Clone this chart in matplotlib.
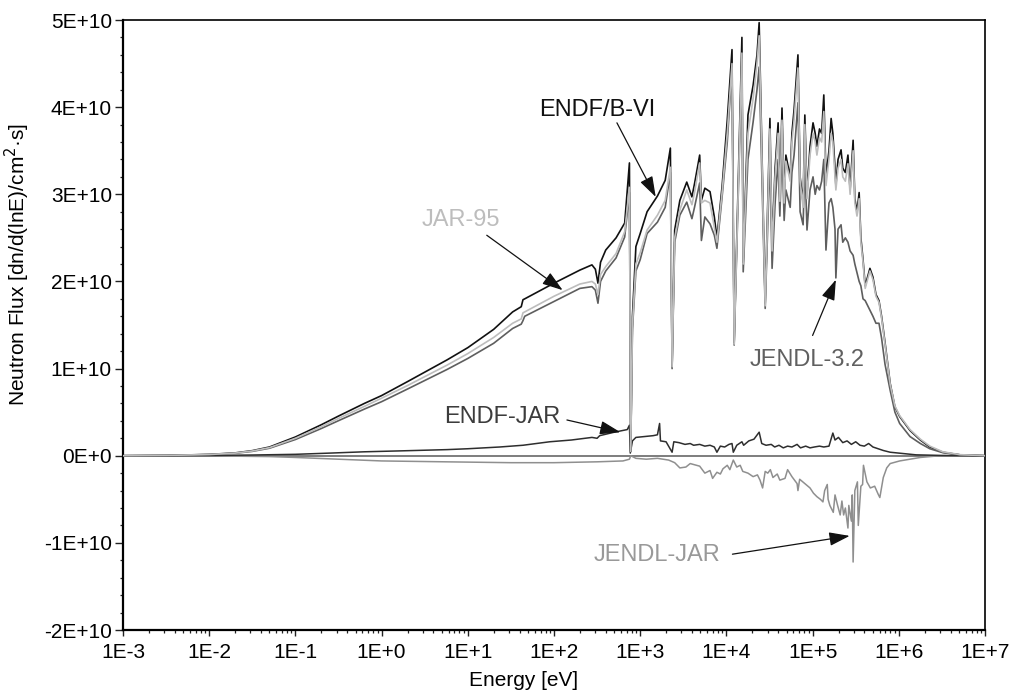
import numpy as np
import matplotlib
matplotlib.use("Agg")
import matplotlib.pyplot as plt
from matplotlib.ticker import FixedLocator

plt.rcParams['font.family'] = ['Liberation Sans', 'DejaVu Sans']

# ---------------- data (flux in units of 1E+10) ----------------
log_energy = [-3.00, -2.50, -2.00, -1.70, -1.50, -1.30, -1.00, -0.70, -0.50, -0.20,
              0.00, 0.30, 0.76, 1.00, 1.30, 1.52, 1.62, 1.64, 1.66, 2.00,
              2.30, 2.44, 2.48, 2.51, 2.54, 2.60, 2.72, 2.82, 2.875, 2.89,
              2.91, 2.95, 3.00, 3.08, 3.20, 3.29, 3.35, 3.37, 3.40, 3.46,
              3.54, 3.60, 3.63, 3.69, 3.71, 3.75, 3.81, 3.86, 3.89, 3.95,
              4.01, 4.065, 4.09, 4.18, 4.195, 4.25, 4.31, 4.355, 4.38, 4.45,
              4.505, 4.53, 4.565, 4.60, 4.62, 4.645, 4.67, 4.69, 4.74, 4.76,
              4.785, 4.83, 4.855, 4.89, 4.91, 4.935, 4.97, 5.005, 5.03, 5.05,
              5.08, 5.105, 5.13, 5.155, 5.19, 5.215, 5.235, 5.26, 5.27, 5.295,
              5.33, 5.35, 5.38, 5.41, 5.435, 5.47, 5.49, 5.515, 5.54, 5.56,
              5.585, 5.61, 5.665, 5.70, 5.735, 5.77, 5.80, 5.84, 5.90, 5.955,
              6.01, 6.13, 6.25, 6.36, 6.51, 6.71, 7.00]

endf_b6 = [0.000, 0.003, 0.015, 0.032, 0.058, 0.100, 0.215, 0.355, 0.455, 0.600,
           0.690, 0.850, 1.100, 1.240, 1.450, 1.650, 1.710, 1.790, 1.800, 1.980,
           2.130, 2.190, 2.140, 1.980, 2.220, 2.360, 2.500, 2.670, 3.360, 0.050,
           1.600, 2.400, 2.550, 2.800, 2.980, 3.160, 3.530, 1.020, 2.590, 2.930,
           3.140, 2.970, 3.120, 3.450, 2.930, 3.070, 3.030, 2.740, 2.500, 3.090,
           3.850, 4.660, 1.300, 4.800, 2.220, 3.910, 4.250, 4.600, 4.970, 1.750,
           3.870, 2.400, 3.300, 3.820, 2.950, 3.990, 2.950, 3.450, 3.200, 3.700,
           3.970, 4.600, 3.200, 2.900, 3.910, 3.000, 3.550, 3.820, 3.700, 3.550,
           3.750, 3.700, 4.140, 3.200, 3.500, 3.870, 3.700, 3.300, 3.100, 3.400,
           3.510, 3.300, 3.250, 3.450, 3.050, 3.620, 2.950, 2.800, 3.020, 2.500,
           2.250, 1.950, 2.150, 2.050, 1.850, 1.780, 1.600, 1.300, 0.830, 0.560,
           0.450, 0.290, 0.180, 0.100, 0.040, 0.010, 0.000]

jar95 = [0.000, 0.003, 0.014, 0.030, 0.054, 0.093, 0.200, 0.333, 0.428, 0.566,
         0.660, 0.805, 1.040, 1.172, 1.357, 1.520, 1.570, 1.640, 1.650, 1.830,
         1.970, 2.000, 1.970, 1.850, 2.080, 2.170, 2.320, 2.570, 3.080, 0.050,
         1.500, 2.200, 2.330, 2.590, 2.760, 2.930, 3.310, 1.020, 2.500, 2.820,
         3.050, 2.880, 3.020, 3.360, 2.900, 2.930, 2.900, 2.620, 2.450, 3.020,
         3.700, 4.500, 1.280, 4.620, 2.200, 3.700, 4.100, 4.500, 4.820, 1.720,
         3.750, 2.350, 3.200, 3.700, 2.920, 3.850, 2.900, 3.380, 3.150, 3.600,
         3.850, 4.450, 3.150, 2.850, 3.800, 2.950, 3.450, 3.700, 3.600, 3.450,
         3.650, 3.600, 3.950, 3.100, 3.400, 3.700, 3.600, 3.200, 3.050, 3.300,
         3.400, 3.200, 3.150, 3.350, 3.000, 3.500, 2.900, 2.750, 2.950, 2.450,
         2.220, 1.920, 2.120, 2.020, 1.830, 1.760, 1.580, 1.280, 0.820, 0.570,
         0.460, 0.300, 0.190, 0.110, 0.045, 0.012, 0.000]

jendl32 = [0.000, 0.003, 0.013, 0.028, 0.050, 0.086, 0.186, 0.312, 0.402, 0.535,
           0.620, 0.765, 0.990, 1.116, 1.290, 1.460, 1.510, 1.550, 1.600, 1.770,
           1.920, 1.940, 1.900, 1.750, 2.000, 2.120, 2.270, 2.510, 3.020, 0.050,
           1.450, 2.120, 2.250, 2.550, 2.680, 2.850, 3.250, 1.000, 2.450, 2.760,
           2.910, 2.720, 2.850, 3.130, 2.470, 2.740, 2.660, 2.530, 2.380, 2.970,
           3.600, 4.450, 1.270, 4.550, 2.110, 3.400, 3.830, 4.200, 4.460, 1.690,
           3.450, 2.150, 2.900, 3.400, 2.750, 3.550, 2.700, 3.050, 2.850, 3.250,
           3.450, 4.050, 2.800, 2.650, 3.400, 2.590, 3.050, 3.200, 3.000, 3.100,
           3.050, 3.150, 3.400, 2.360, 2.900, 2.950, 2.850, 2.600, 2.040, 2.600,
           2.650, 2.450, 2.500, 2.450, 2.350, 2.300, 2.200, 2.100, 2.000, 1.950,
           1.800, 1.780, 1.670, 1.600, 1.520, 1.520, 1.350, 1.050, 0.750, 0.500,
           0.370, 0.220, 0.140, 0.080, 0.035, 0.010, 0.000]

diff1_log_energy = [-3.0, -2.0, -1.5, -1.0, -0.6, -0.2, 0.2, 0.76, 1.0, 1.37,
                    1.64, 1.95, 2.2, 2.44, 2.5, 2.53, 2.7, 2.85, 2.875, 2.885,
                    2.91, 2.95, 3.05, 3.15, 3.20, 3.225, 3.235, 3.30, 3.37, 3.39,
                    3.45, 3.52, 3.58, 3.62, 3.69, 3.75, 3.81, 3.86, 3.89, 3.93,
                    3.98, 4.03, 4.065, 4.08, 4.12, 4.18, 4.20, 4.26, 4.32, 4.38,
                    4.41, 4.46, 4.52, 4.56, 4.61, 4.66, 4.71, 4.76, 4.82, 4.86,
                    4.92, 4.97, 5.02, 5.08, 5.13, 5.19, 5.235, 5.26, 5.30, 5.35,
                    5.40, 5.45, 5.50, 5.55, 5.60, 5.65, 5.70, 5.76, 5.82, 5.90,
                    6.0, 6.2, 6.5, 7.0]
endf_minus_jar = [0.0, 0.003, 0.008, 0.016, 0.030, 0.045, 0.055, 0.070, 0.080, 0.100,
                  0.120, 0.160, 0.180, 0.210, 0.200, 0.230, 0.270, 0.300, 0.350, 0.030,
                  0.170, 0.210, 0.220, 0.230, 0.240, 0.370, 0.170, 0.160, 0.040, 0.160,
                  0.150, 0.130, 0.140, 0.120, 0.130, 0.110, 0.120, 0.100, 0.040, 0.110,
                  0.100, 0.130, 0.140, 0.040, 0.120, 0.160, 0.120, 0.170, 0.190, 0.270,
                  0.140, 0.120, 0.130, 0.100, 0.120, 0.090, 0.110, 0.100, 0.130, 0.090,
                  0.110, 0.090, 0.100, 0.110, 0.100, 0.110, 0.260, 0.180, 0.210, 0.150,
                  0.170, 0.130, 0.160, 0.120, 0.110, 0.140, 0.100, 0.080, 0.060, 0.040,
                  0.030, 0.010, 0.003, 0.0]

diff2_log_energy = [-3.0, -2.0, -1.3, -1.0, -0.5, 0.0, 0.74, 1.5, 2.0, 2.5,
                    2.8, 2.875, 2.89, 2.95, 3.07, 3.2, 3.33, 3.40, 3.46, 3.53,
                    3.58, 3.69, 3.75, 3.81, 3.84, 3.89, 3.93, 3.96, 4.01, 4.04,
                    4.08, 4.12, 4.16, 4.19, 4.25, 4.31, 4.36, 4.39, 4.42, 4.45,
                    4.48, 4.51, 4.54, 4.59, 4.62, 4.68, 4.71, 4.76, 4.82, 4.83,
                    4.85, 4.91, 4.97, 5.01, 5.05, 5.09, 5.12, 5.14, 5.17, 5.18,
                    5.20, 5.24, 5.26, 5.29, 5.32, 5.34, 5.36, 5.38, 5.41, 5.42,
                    5.45, 5.46, 5.47, 5.49, 5.52, 5.53, 5.56, 5.58, 5.59, 5.63,
                    5.67, 5.72, 5.76, 5.78, 5.82, 5.86, 5.90, 6.01, 6.13, 6.25,
                    6.42, 6.71, 7.0]
jendl_minus_jar = [0.0, -0.002, -0.010, -0.020, -0.040, -0.060, -0.070, -0.080, -0.080, -0.070,
                   -0.060, -0.040, 0.000, -0.030, -0.040, -0.030, -0.050, -0.080, -0.140, -0.130,
                   -0.090, -0.120, -0.200, -0.170, -0.260, -0.190, -0.210, -0.150, -0.110, -0.160,
                   -0.050, -0.130, -0.110, -0.180, -0.200, -0.240, -0.220, -0.280, -0.370, -0.180,
                   -0.200, -0.160, -0.250, -0.210, -0.280, -0.260, -0.160, -0.240, -0.320, -0.400,
                   -0.270, -0.320, -0.370, -0.430, -0.470, -0.500, -0.530, -0.400, -0.330, -0.500,
                   -0.570, -0.650, -0.450, -0.570, -0.680, -0.520, -0.680, -0.600, -0.830, -0.570,
                   -0.750, -0.450, -1.220, -0.400, -0.300, -0.800, -0.350, -0.330, -0.110, -0.300,
                   -0.370, -0.350, -0.440, -0.480, -0.250, -0.140, -0.090, -0.060, -0.040, -0.020,
                   -0.005, 0.0, 0.0]

x_tick_labels = ["1E-3", "1E-2", "1E-1", "1E+0", "1E+1", "1E+2",
                 "1E+3", "1E+4", "1E+5", "1E+6", "1E+7"]
y_tick_labels = ["-2E+10", "-1E+10", "0E+0", "1E+10", "2E+10",
                 "3E+10", "4E+10", "5E+10"]

SCALE = 1e10

def to_E(le):
    return np.power(10.0, np.asarray(le, dtype=float))

def to_flux(v):
    return np.asarray(v, dtype=float) * SCALE

# ---------------- figure ----------------
fig = plt.figure(figsize=(10.12, 6.95), dpi=100)
L, R, T, B = 123, 985, 20, 630
ax = fig.add_axes([L / 1012, (695 - B) / 695, (R - L) / 1012, (B - T) / 695])

E = to_E(log_energy)
ax.axhline(0, color='#5a5a5a', lw=1.1, zorder=1)
ax.plot(to_E(diff2_log_energy), to_flux(jendl_minus_jar), color='#8f8f8f', lw=1.1, zorder=2)
ax.plot(to_E(diff1_log_energy), to_flux(endf_minus_jar), color='#2e2e2e', lw=1.1, zorder=2)
ax.plot(E, to_flux(endf_b6), color='#111111', lw=1.2, zorder=3)
ax.plot(E, to_flux(jendl32), color='#5e5e5e', lw=1.2, zorder=4)
ax.plot(E, to_flux(jar95), color='#bdbdbd', lw=1.2, zorder=5)

ax.set_xscale('log')
ax.set_xlim(1e-3, 1e7)
ax.set_ylim(-2e10, 5e10)

ax.set_xticks([10.0 ** k for k in range(-3, 8)])
ax.set_xticklabels(x_tick_labels)
minor_x = [m * 10.0 ** k for k in range(-3, 7) for m in range(2, 10)]
ax.xaxis.set_minor_locator(FixedLocator(minor_x))

ax.set_yticks([k * 1e10 for k in range(-2, 6)])
ax.set_yticklabels(y_tick_labels)
ax.yaxis.set_minor_locator(FixedLocator([k * 2e9 for k in range(-10, 26)]))

ax.tick_params(axis='both', which='major', direction='out', labelsize=15, width=1.0, color='#222222')
ax.tick_params(axis='y', which='major', length=6, pad=2)
ax.tick_params(axis='x', which='major', length=4, pad=5)
ax.tick_params(axis='both', which='minor', direction='out', length=2.3, width=0.9, color='#222222')
ax.tick_params(top=False, right=False, which='both')

for side in ['left', 'bottom']:
    ax.spines[side].set_linewidth(1.6)
for side in ['top', 'right']:
    ax.spines[side].set_linewidth(1.2)

ax.set_xlabel("Energy [eV]", fontsize=15)
ax.xaxis.set_label_coords(0.465, -0.068)
ax.set_ylabel("Neutron Flux [dn/d(lnE)/cm$^2$·s]", fontsize=15)
ax.yaxis.set_label_coords(-0.106, 0.60)

# ---------------- annotations ----------------
arrow_kw = dict(arrowstyle='-|>,head_length=0.9,head_width=0.3', color='#111111',
                lw=0.9, shrinkA=0, shrinkB=0, mutation_scale=14)

def label(text, tx, ty, color, tail, head):
    ax.text(tx, ty * SCALE, text, fontsize=17, color=color, ha='center', va='center', zorder=6)
    ax.annotate('', xy=(head[0], head[1] * SCALE), xytext=(tail[0], tail[1] * SCALE),
                arrowprops=arrow_kw, zorder=6)

label("ENDF/B-VI", 10 ** 2.50, 3.97, '#111111', (10 ** 2.73, 3.82), (10 ** 3.18, 2.97))
label("JAR-95", 10 ** 0.92, 2.70, '#bdbdbd', (10 ** 1.22, 2.53), (10 ** 2.10, 1.90))
label("ENDF-JAR", 10 ** 1.40, 0.44, '#3c3c3c', (10 ** 2.15, 0.41), (10 ** 2.77, 0.27))
label("JENDL-3.2", 10 ** 4.94, 1.10, '#606060', (10 ** 5.00, 1.38), (10 ** 5.27, 2.02))
label("JENDL-JAR", 10 ** 3.19, -1.14, '#999999', (10 ** 4.07, -1.13), (10 ** 5.43, -0.92))

fig.savefig("out.png", dpi=100)
